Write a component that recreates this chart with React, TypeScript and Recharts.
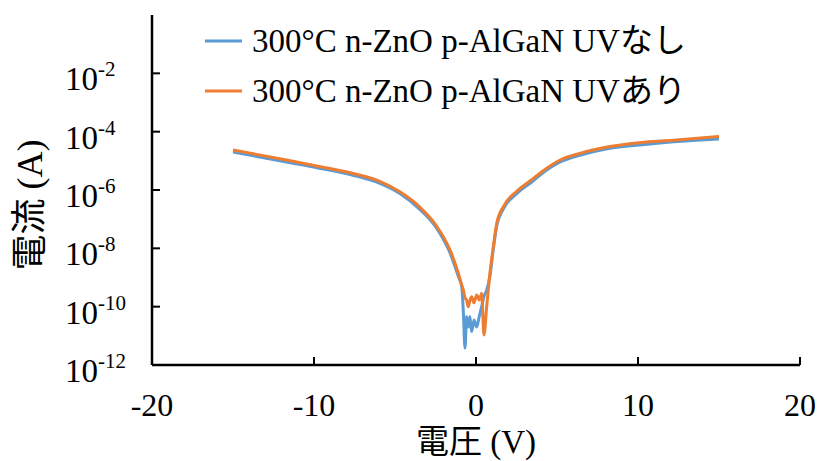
import React from 'react';
import { LineChart, Line, XAxis, YAxis } from 'recharts';

const voltage = [-15, -11.7, -9.6, -7.6, -5.9, -4.7, -3.5, -2.4, -1.6, -1.1, -0.88, -0.78, -0.68, -0.58, -0.48, -0.38, -0.27, -0.12, 0.04, 0.2, 0.35, 0.49, 0.66, 0.86, 1.07, 1.28, 1.69, 2.5, 3.5, 4.0, 5.2, 6.4, 8.1, 10.1, 12.2, 15];

const currentUvOff = [2.0e-5, 9.1e-6, 5.5e-6, 3.2e-6, 1.66e-6, 7.6e-7, 2.24e-7, 4.6e-8, 6.9e-9, 1.12e-9, 4.8e-10, 6.3e-11, 3.8e-12, 4.6e-11, 2.0e-11, 4.6e-11, 1.4e-11, 3.5e-11, 2.0e-11, 4.6e-11, 1.0e-10, 2.2e-10, 3.7e-10, 1.12e-9, 9.5e-9, 5.9e-8, 2.24e-7, 7.4e-7, 2.0e-6, 3.4e-6, 9.1e-6, 1.55e-5, 2.6e-5, 3.5e-5, 4.5e-5, 5.6e-5];

const currentUvOn = [2.34e-5, 1.07e-5, 6.3e-6, 3.7e-6, 1.95e-6, 8.7e-7, 2.7e-7, 5.5e-8, 8.7e-9, 1.45e-9, 5.5e-10, 3.7e-10, 2.0e-10, 1.7e-10, 1.0e-10, 1.6e-10, 2.2e-10, 1.35e-10, 2.5e-10, 1.7e-10, 2.9e-10, 1.07e-11, 1.0e-10, 1.4e-9, 1.15e-8, 7.2e-8, 2.7e-7, 8.9e-7, 2.4e-6, 4.0e-6, 1.07e-5, 1.8e-5, 3.0e-5, 4.2e-5, 5.1e-5, 6.8e-5];

const seriesNames = ['300°C n-ZnO p-AlGaN UVなし', '300°C n-ZnO p-AlGaN UVあり'];
const seriesColors = ['#5B9BD5', '#ED7D31'];

const xTicks = [-20, -10, 0, 10, 20];
const yTicks = [1e-12, 1e-10, 1e-8, 1e-6, 1e-4, 1e-2];

const data = voltage.map((v, i) => ({ v, off: currentUvOff[i], on: currentUvOn[i] }));

const FONT = '"Liberation Serif", "Times New Roman", "Noto Sans CJK JP", serif';

const XTick = (props: any) => {
  const { x, y, payload } = props;
  return (
    <g>
      <line x1={x} x2={x} y1={y} y2={y - 8} stroke="#000" strokeWidth={2} />
      <text x={x} y={y + 51} textAnchor="middle" fontFamily={FONT} fontSize={32} fill="#000">
        {payload.value}
      </text>
    </g>
  );
};

const YTick = (props: any) => {
  const { x, y, payload } = props;
  const exp = Math.round(Math.log10(payload.value));
  return (
    <g>
      <line x1={x} x2={x + 8} y1={y} y2={y} stroke="#000" strokeWidth={2} />
      <text x={65} y={y + 17} textAnchor="start" fontFamily={FONT} fontSize={33} fill="#000">
        10
        <tspan dy={-14} fontSize={21}>{exp}</tspan>
      </text>
    </g>
  );
};

export default function App() {
  return (
    <div style={{ position: 'absolute', left: 0, top: 0, width: 820, height: 461, background: '#fff' }}>
      <LineChart width={820} height={461} data={data} margin={{ top: 15, right: 20, bottom: 0, left: 0 }}>
        <XAxis
          dataKey="v"
          type="number"
          domain={[-20, 20]}
          ticks={xTicks}
          height={96}
          tickSize={0}
          tickMargin={0}
          tickLine={false}
          axisLine={{ stroke: '#000', strokeWidth: 2.5 }}
          tick={<XTick />}
          label={{
            content: () => (
              <text x={476} y={453} textAnchor="middle" fontFamily={FONT} fontSize={33} fill="#000">
                電圧 (V)
              </text>
            ),
          }}
        />
        <XAxis
          xAxisId="top"
          orientation="top"
          type="number"
          domain={[-20, 20]}
          height={0}
          tick={false}
          tickLine={false}
          axisLine={{ stroke: '#000', strokeWidth: 2.5 }}
        />
        <YAxis
          scale="log"
          type="number"
          domain={[1e-12, 1]}
          allowDataOverflow
          ticks={yTicks}
          width={152}
          tickSize={0}
          tickMargin={0}
          tickLine={false}
          axisLine={{ stroke: '#000', strokeWidth: 2.5 }}
          tick={<YTick />}
          label={{
            content: () => (
              <text
                x={30}
                y={205}
                transform="rotate(-90 30 205)"
                textAnchor="middle"
                dominantBaseline="central"
                fontFamily={FONT}
                fontSize={36}
                fill="#000"
              >
                電流 (A)
              </text>
            ),
          }}
        />
        <YAxis
          yAxisId="right"
          orientation="right"
          width={0}
          tick={false}
          tickLine={false}
          axisLine={{ stroke: '#000', strokeWidth: 2.5 }}
        />
        <Line dataKey="off" stroke={seriesColors[0]} strokeWidth={3} dot={false} isAnimationActive={false} type="monotone" />
        <Line dataKey="on" stroke={seriesColors[1]} strokeWidth={3} dot={false} isAnimationActive={false} type="monotone" />
      </LineChart>
      <svg width={820} height={120} style={{ position: 'absolute', left: 0, top: 0, pointerEvents: 'none' }}>
        {seriesNames.map((name, i) => (
          <g key={name}>
            <line x1={205} x2={242} y1={41 + i * 50} y2={41 + i * 50} stroke={seriesColors[i]} strokeWidth={3} />
            <text x={252} y={52 + i * 50} fontFamily={FONT} fontSize={33} fill="#000">
              {name}
            </text>
          </g>
        ))}
      </svg>
    </div>
  );
}
